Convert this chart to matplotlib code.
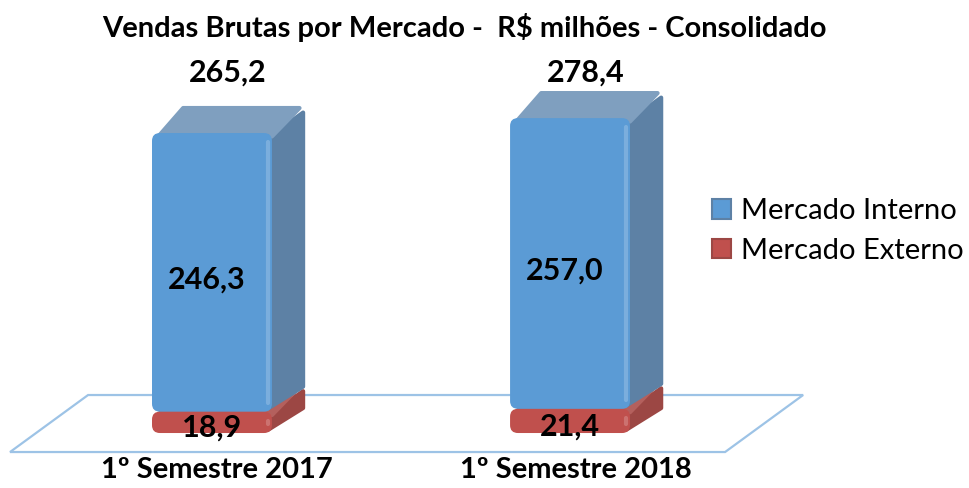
import numpy as np
import matplotlib
matplotlib.use("Agg")
import matplotlib.pyplot as plt
from matplotlib.patches import Polygon, FancyBboxPatch, Patch

categories = ['1º Semestre 2017', '1º Semestre 2018']
interno = [246.3, 257.0]
externo = [18.9, 21.4]
totais = [265.2, 278.4]
series_names = ['Mercado Interno', 'Mercado Externo']
title = 'Vendas Brutas por Mercado -  R$ milhões - Consolidado'

plt.rcParams['font.family'] = ['Lato', 'DejaVu Sans']

def fmt(v):
    return f'{v:.1f}'.replace('.', ',')

fig = plt.figure(figsize=(9.7, 4.88), dpi=100)
ax = fig.add_axes([0, 0, 1, 1])
ax.set_xlim(-0.592, 2.117)
ax.set_ylim(-48.6, 382.8)
ax.axis('off')

# pseudo 3d geometry (data units)
w = 0.335
dx, dy = 0.087, 22.1
rs = 0.022
asp = 316.5

blue = dict(front='#5b9bd5', top='#7f9fbf', side='#5d81a5')
red = dict(front='#c0504d', top='#b4605d', side='#9c4744')

# floor
fx0, fx1, fy = -0.564, 1.433, -16.8
floor = Polygon([(fx0, fy), (fx0 + 0.218, fy + 50.4), (fx1 + 0.218, fy + 50.4), (fx1, fy)],
                closed=True, fill=False, edgecolor='#9dc3e6', lw=1.6, zorder=1)
ax.add_patch(floor)


def box(x0, y0, h, c, z):
    xl, xr = x0 - w / 2, x0 + w / 2
    ax.add_patch(Polygon([(xr - 0.01, y0 + 3), (xr + dx, y0 + dy), (xr + dx, y0 + h + dy - 4),
                          (xr - 0.01, y0 + h - 4)], closed=True, facecolor=c['side'],
                         edgecolor=c['side'], lw=3, joinstyle='round', zorder=z))
    ax.add_patch(Polygon([(xl + 0.015, y0 + h - 4), (xl + dx, y0 + h + dy), (xr + dx - 0.01, y0 + h + dy),
                          (xr, y0 + h - 3)], closed=True, facecolor=c['top'],
                         edgecolor=c['top'], lw=3, joinstyle='round', zorder=z))
    ax.add_patch(FancyBboxPatch((xl, y0), w, h, boxstyle=f'round,pad=0,rounding_size={rs}',
                                mutation_aspect=asp, facecolor=c['front'], edgecolor='none',
                                zorder=z + 0.5))
    # soft highlight along right edge of front face
    ax.plot([xr - 0.012, xr - 0.012], [y0 + 8, y0 + h - 8], color='white', alpha=0.2,
            lw=3, solid_capstyle='round', zorder=z + 0.6)


x = np.arange(len(categories))
for i in range(len(categories)):
    box(x[i], 0, externo[i], red, 2)
    box(x[i], externo[i], interno[i], blue, 3)
    ax.text(x[i], externo[i] / 2 - 5, fmt(externo[i]), ha='center', va='center',
            fontsize=22, fontweight='bold', color='black', zorder=5)
    ax.text(x[i] - 0.015, externo[i] + interno[i] / 2 - 6, fmt(interno[i]), ha='center', va='center',
            fontsize=22, fontweight='bold', color='black', zorder=5)
    ax.text(x[i] + dx / 2, 319, fmt(totais[i]), ha='center', va='center',
            fontsize=22, fontweight='bold', color='black', zorder=5)
    ax.text(x[i] + 0.015, -32.7, categories[i], ha='center', va='center',
            fontsize=21, fontweight='bold', color='black', zorder=5)

fig.text(0.479, 0.943, title, ha='center', va='center', fontsize=21, fontweight='bold')

handles = [Patch(facecolor=blue['front'], edgecolor=blue['side'], lw=1.5),
           Patch(facecolor=red['front'], edgecolor=red['side'], lw=1.5)]
fig.legend(handles, series_names, loc='center left', bbox_to_anchor=(712 / 970, 1 - 231 / 488),
           frameon=False, fontsize=21, handlelength=0.65, handleheight=0.65,
           handletextpad=0.35, labelspacing=0.45, borderpad=0, borderaxespad=0)

fig.savefig('out.png', dpi=100)
